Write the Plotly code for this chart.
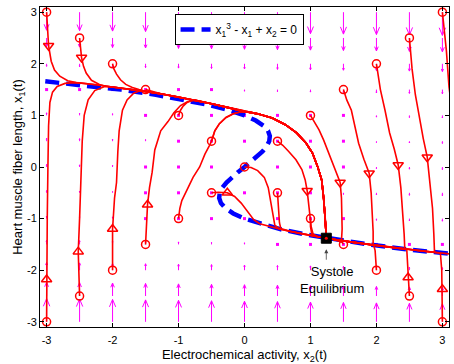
import plotly.graph_objects as go

# ---------------- data ----------------
tick_vals = [-3, -2, -1, 0, 1, 2, 3]
tick_text = ["-3", "-2", "-1", "0", "1", "2", "3"]

# quiver grid (x2 across, x1 down) and vertical arrow components
x2_grid = [-3.0, -2.5, -2.0, -1.5, -1.0, -0.5, 0.0, 0.5, 1.0, 1.5, 2.0, 2.5, 3.0]
x1_grid = [3.0, 2.5, 2.0, 1.5, 1.0, 0.5, 0.0, -0.5, -1.0, -1.5, -2.0, -2.5, -3.0]
quiver_v = [
    [-21, -21.5, -22, -22.5, -23, -23.5, -24, -24.5, -25, -25.5, -26, -26.5, -27],
    [-10.1, -10.6, -11.1, -11.6, -12.1, -12.6, -13.1, -13.6, -14.1, -14.6, -15.1, -15.6, -16.1],
    [-3, -3.5, -4, -4.5, -5, -5.5, -6, -6.5, -7, -7.5, -8, -8.5, -9],
    [1.1, 0.6, 0.1, -0.4, -0.9, -1.4, -1.9, -2.4, -2.9, -3.4, -3.9, -4.4, -4.9],
    [3, 2.5, 2, 1.5, 1, 0.5, 0, -0.5, -1, -1.5, -2, -2.5, -3],
    [3.4, 2.9, 2.4, 1.9, 1.4, 0.9, 0.4, -0.1, -0.6, -1.1, -1.6, -2.1, -2.6],
    [3, 2.5, 2, 1.5, 1, 0.5, 0, -0.5, -1, -1.5, -2, -2.5, -3],
    [2.6, 2.1, 1.6, 1.1, 0.6, 0.1, -0.4, -0.9, -1.4, -1.9, -2.4, -2.9, -3.4],
    [3, 2.5, 2, 1.5, 1, 0.5, 0, -0.5, -1, -1.5, -2, -2.5, -3],
    [4.9, 4.4, 3.9, 3.4, 2.9, 2.4, 1.9, 1.4, 0.9, 0.4, -0.1, -0.6, -1.1],
    [9, 8.5, 8, 7.5, 7, 6.5, 6, 5.5, 5, 4.5, 4, 3.5, 3],
    [16.1, 15.6, 15.1, 14.6, 14.1, 13.6, 13.1, 12.6, 12.1, 11.6, 11.1, 10.6, 10.1],
    [27, 26.5, 26, 25.5, 25, 24.5, 24, 23.5, 23, 22.5, 22, 21.5, 21],
]

# nullcline x1^3 - x1 + x2 = 0
null_x1 = [-1.8, -1.7, -1.6, -1.5, -1.4, -1.3, -1.2, -1.1, -1.0, -0.9, -0.8, -0.7, -0.6,
           -0.5, -0.4, -0.3, -0.2, -0.1, 0.0, 0.1, 0.2, 0.3, 0.4, 0.5, 0.6, 0.7, 0.8,
           0.9, 1.0, 1.1, 1.2, 1.3, 1.4, 1.5, 1.6, 1.7, 1.8]
null_x2 = [4.032, 3.213, 2.496, 1.875, 1.344, 0.897, 0.528, 0.231, 0.0, -0.171, -0.288,
           -0.357, -0.384, -0.375, -0.336, -0.273, -0.192, -0.099, 0.0, 0.099, 0.192,
           0.273, 0.336, 0.375, 0.384, 0.357, 0.288, 0.171, 0.0, -0.231, -0.528,
           -0.897, -1.344, -1.875, -2.496, -3.213, -4.032]

# shared path along the upper branch down to the equilibrium
up_x2 = [-3.2, -3.0, -2.75, -2.5, -2.25, -2.0, -1.75, -1.5, -1.25, -1.0, -0.75, -0.5,
         -0.25, 0.0, 0.2, 0.42, 0.62, 0.79, 0.93, 1.03, 1.11, 1.17, 1.2, 1.22, 1.23, 1.24]
up_x1 = [1.73, 1.70, 1.665, 1.63, 1.595, 1.55, 1.51, 1.465, 1.415, 1.355, 1.295, 1.225,
         1.15, 1.075, 1.03, 0.95, 0.82, 0.66, 0.47, 0.27, 0.0, -0.25, -0.6, -0.9, -1.15, -1.38]
# lower branch, left of the equilibrium (moving right)
ll_x2 = [0.1, 0.23, 0.37, 0.53, 0.7, 0.9, 1.11, 1.24]
ll_x1 = [-1.06, -1.1, -1.15, -1.2, -1.25, -1.3, -1.35, -1.38]
# lower branch, right of the equilibrium (moving left)
lr_x2 = [3.4, 3.21, 2.84, 2.5, 2.17, 1.88, 1.6, 1.34, 1.24]
lr_x1 = [-1.72, -1.7, -1.65, -1.6, -1.55, -1.5, -1.45, -1.4, -1.38]

# individual trajectories (lead-in part), joined to a shared path
t01_x2 = [-3, -2.99, -2.97, -2.93, -2.88, -2.8, -2.68, -2.55]
t01_x1 = [3, 2.7, 2.35, 2.05, 1.88, 1.76, 1.67, 1.635]
t02_x2 = [-2.5, -2.49, -2.47, -2.44, -2.4, -2.32, -2.2, -2.1]
t02_x1 = [2.5, 2.3, 2.12, 1.95, 1.82, 1.68, 1.6, 1.565]
t03_x2 = [-2, -1.98, -1.94, -1.88, -1.8, -1.7, -1.6]
t03_x1 = [2, 1.9, 1.8, 1.69, 1.6, 1.54, 1.5]
t04_x2 = [-1.5, -1.4, -1.3]
t04_x1 = [1.5, 1.46, 1.43]
t05_x2 = [-1, -0.97, -0.93, -0.87, -0.78]
t05_x1 = [1, 1.1, 1.18, 1.25, 1.3]
t06_x2 = [-0.5, -0.45, -0.38, -0.28, -0.17, -0.05, 0.1]
t06_x1 = [0.5, 0.7, 0.84, 0.96, 1.03, 1.07, 1.06]
t07_x2 = [-3, -3, -2.99, -2.98, -2.97, -2.95, -2.91, -2.84, -2.72, -2.6]
t07_x1 = [-3, -2.18, -1.0, 0.0, 0.8, 1.25, 1.45, 1.56, 1.62, 1.635]
t08_x2 = [-2.5, -2.51, -2.52, -2.5, -2.48, -2.46, -2.43, -2.37, -2.27, -2.12]
t08_x1 = [-2.5, -2.1, -1.64, -1.0, -0.3, 0.5, 1.0, 1.3, 1.48, 1.56]
t09_x2 = [-2, -2, -2, -1.97, -1.94, -1.92, -1.9, -1.85, -1.78, -1.68, -1.58]
t09_x1 = [-2, -1.6, -1.2, -0.6, -0.3, 0.3, 0.7, 1.1, 1.3, 1.43, 1.48]
t10_x2 = [-1.5, -1.49, -1.47, -1.44, -1.4, -1.36, -1.27, -1.16, -1.07, -0.97, -0.86]
t10_x1 = [-1.5, -1.1, -0.73, -0.4, -0.1, 0.33, 0.7, 0.88, 1.05, 1.19, 1.27]
t11_x2 = [-1, -0.98, -0.95, -0.86, -0.78, -0.68, -0.6, -0.53, -0.5, -0.45, -0.38, -0.28,
          -0.17, -0.05, 0.1]
t11_x1 = [-1, -0.8, -0.65, -0.4, -0.2, 0.0, 0.25, 0.42, 0.5, 0.7, 0.84, 0.96, 1.03, 1.07, 1.06]
t12_x2 = [-0.5, -0.4, -0.26, -0.15, -0.05, 0.05, 0.14]
t12_x1 = [-0.5, -0.49, -0.5, -0.57, -0.7, -0.88, -1.02]
t13_x2 = [0, 0.1, 0.2, 0.3, 0.36, 0.4, 0.43, 0.46]
t13_x1 = [0, -0.01, -0.07, -0.2, -0.4, -0.7, -0.95, -1.13]
t14_x2 = [0.5, 0.51, 0.52, 0.53, 0.55]
t14_x1 = [-0.5, -0.7, -0.9, -1.08, -1.19]
t15_x2 = [1, 1.0, 1.02]
t15_x1 = [-1, -1.15, -1.3]
t16_x2 = [0.5, 0.58, 0.67, 0.78, 0.87, 0.92, 0.95, 0.97, 0.99, 1.01, 1.04]
t16_x1 = [0.5, 0.42, 0.3, 0.14, -0.05, -0.25, -0.46, -0.7, -0.95, -1.15, -1.3]
t17_x2 = [1, 1.06, 1.13, 1.2, 1.3, 1.39, 1.45, 1.47, 1.48, 1.48, 1.47]
t17_x1 = [1, 0.88, 0.72, 0.52, 0.2, -0.12, -0.3, -0.6, -0.9, -1.2, -1.43]
t18_x2 = [1.5, 1.55, 1.62, 1.68, 1.73, 1.81, 1.89, 1.92, 1.94, 1.95, 1.95]
t18_x1 = [1.5, 1.3, 1.1, 0.75, 0.46, 0.15, -0.12, -0.5, -0.9, -1.25, -1.51]
t19_x2 = [2, 2.03, 2.06, 2.13, 2.2, 2.27, 2.33, 2.37, 2.4, 2.42, 2.43]
t19_x1 = [2, 1.75, 1.5, 1.1, 0.66, 0.35, 0.04, -0.4, -0.9, -1.3, -1.59]
t20_x2 = [2.5, 2.52, 2.54, 2.59, 2.65, 2.71, 2.77, 2.81, 2.85, 2.87, 2.88]
t20_x1 = [2.5, 2.2, 1.9, 1.4, 0.96, 0.55, 0.19, -0.3, -0.8, -1.3, -1.65]
t21_x2 = [3, 3.03, 3.06, 3.1, 3.16, 3.23, 3.3, 3.36, 3.4]
t21_x1 = [3, 2.6, 2.26, 1.55, 1.0, 0.3, -0.4, -1.1, -1.72]
t22_x2 = [1.5, 1.48]
t22_x1 = [-1.5, -1.46]
t23_x2 = [2, 1.99, 1.98, 1.96]
t23_x1 = [-2, -1.8, -1.62, -1.52]
t24_x2 = [2.5, 2.48, 2.47, 2.46]
t24_x1 = [-2.5, -2.14, -1.85, -1.6]
t25_x2 = [3, 3, 2.99, 2.97]
t25_x1 = [-3, -2.37, -2.0, -1.67]

# which shared path each trajectory continues on
joins = ["up", "up", "up", "up", "up", "up", "up", "up", "up", "up", "up",
         "ll", "ll", "ll", "ll", "ll", "lr", "lr", "lr", "lr", "lr", "lr", "lr", "lr", "lr"]

# direction markers
tri_down_x2 = [-2.97, -2.47, 0.95, 1.45, 1.89, 2.33, 2.77]
tri_down_x1 = [2.35, 2.12, -0.46, -0.3, -0.12, 0.04, 0.19]
tri_up_x2 = [-3, -2.52, -2, -1.47, -0.26, 2.48, 3]
tri_up_x1 = [-2.18, -1.64, -1.2, -0.73, -0.5, -2.14, -2.37]

# equilibrium
eq_x2 = 1.24
eq_x1 = -1.38

legend_label = "x<sub>1</sub><sup>3</sup> - x<sub>1</sub> + x<sub>2</sub> = 0"
x_title = "Electrochemical activity, x<sub>2</sub>(t)"
y_title = "Heart muscle fiber length, x<sub>1</sub>(t)"
eq_label = "Systole<br>Equilibrium"

# ---------------- build figure ----------------
RED = "#ff0000"
MAG = "#ff00ff"
QSCALE = 0.45 / 27.0

fig = go.Figure()

# quiver field
qx, qy, dx, dy = [], [], [], []
for i, x1 in enumerate(x1_grid):
    for j, x2 in enumerate(x2_grid):
        v = quiver_v[i][j]
        if abs(v) <= 1.5:
            dx.append(x2)
            dy.append(x1)
            continue
        L = v * QSCALE
        tip = x1 + L
        hl = 0.33 * L
        hw = 0.33 * 0.33 * abs(L)
        qx += [x2, x2, None, x2 - hw, x2, x2 + hw, None]
        qy += [x1, tip, None, tip - hl, tip, tip - hl, None]

fig.add_trace(go.Scatter(x=qx, y=qy, mode="lines", line=dict(color=MAG, width=1),
                         showlegend=False, hoverinfo="skip"))
fig.add_trace(go.Scatter(x=dx, y=dy, mode="markers",
                         marker=dict(color=MAG, size=3, symbol="square", line=dict(width=0)),
                         showlegend=False, hoverinfo="skip"))

# nullcline
fig.add_trace(go.Scatter(x=null_x2, y=null_x1, mode="lines", name=legend_label,
                         line=dict(color="#0000ff", width=4.5, dash="14px,7px")))

paths = {"up": (up_x2, up_x1), "ll": (ll_x2, ll_x1), "lr": (lr_x2, lr_x1)}
trajs = [(t01_x2, t01_x1), (t02_x2, t02_x1), (t03_x2, t03_x1), (t04_x2, t04_x1),
         (t05_x2, t05_x1), (t06_x2, t06_x1), (t07_x2, t07_x1), (t08_x2, t08_x1),
         (t09_x2, t09_x1), (t10_x2, t10_x1), (t11_x2, t11_x1), (t12_x2, t12_x1),
         (t13_x2, t13_x1), (t14_x2, t14_x1), (t15_x2, t15_x1), (t16_x2, t16_x1),
         (t17_x2, t17_x1), (t18_x2, t18_x1), (t19_x2, t19_x1), (t20_x2, t20_x1),
         (t21_x2, t21_x1), (t22_x2, t22_x1), (t23_x2, t23_x1), (t24_x2, t24_x1),
         (t25_x2, t25_x1)]

start_x2, start_x1 = [], []
for (tx, ty), jn in zip(trajs, joins):
    px, py = paths[jn]
    xs, ys = list(tx), list(ty)
    last = xs[-1]
    for a, b in zip(px, py):
        if (jn == "lr" and a < last) or (jn != "lr" and a > last):
            xs.append(a)
            ys.append(b)
    fig.add_trace(go.Scatter(x=xs, y=ys, mode="lines", line=dict(color=RED, width=1.6),
                             showlegend=False, hoverinfo="skip"))
    start_x2.append(tx[0])
    start_x1.append(ty[0])

fig.add_trace(go.Scatter(x=start_x2, y=start_x1, mode="markers",
                         marker=dict(symbol="circle-open", size=8, color=RED, line=dict(width=1.5)),
                         showlegend=False, hoverinfo="skip"))
fig.add_trace(go.Scatter(x=tri_down_x2, y=tri_down_x1, mode="markers",
                         marker=dict(symbol="triangle-down-open", size=9, color=RED, line=dict(width=1.5)),
                         showlegend=False, hoverinfo="skip"))
fig.add_trace(go.Scatter(x=tri_up_x2, y=tri_up_x1, mode="markers",
                         marker=dict(symbol="triangle-up-open", size=9, color=RED, line=dict(width=1.5)),
                         showlegend=False, hoverinfo="skip"))
fig.add_trace(go.Scatter(x=[eq_x2], y=[eq_x1], mode="markers",
                         marker=dict(symbol="square", size=10, color="black", line=dict(width=1, color="black")),
                         showlegend=False, hoverinfo="skip"))
fig.add_trace(go.Scatter(x=[eq_x2], y=[eq_x1], mode="markers",
                         marker=dict(symbol="circle", size=3, color=RED),
                         showlegend=False, hoverinfo="skip"))

fig.add_annotation(x=eq_x2, y=eq_x1, xref="x", yref="y", text="", showarrow=True,
                   ax=0, ay=12, yshift=-11, arrowhead=2, arrowsize=1, arrowwidth=0.8,
                   arrowcolor="#444444")
fig.add_annotation(x=eq_x2, y=eq_x1, xref="x", yref="y", text=eq_label, showarrow=False,
                   xanchor="center", yanchor="top", yshift=-24, xshift=6,
                   font=dict(size=13, color="black"))

axis_common = dict(range=[-3.1, 3.1], tickvals=tick_vals, ticktext=tick_text,
                   ticks="inside", ticklen=4, tickcolor="black", mirror="ticks",
                   showline=True, linecolor="black", linewidth=1, showgrid=False,
                   zeroline=False, tickfont=dict(size=11, color="black"))

fig.update_layout(
    width=454, height=364,
    margin=dict(l=40, r=4, t=7, b=35),
    paper_bgcolor="white", plot_bgcolor="white",
    font=dict(family="Liberation Sans, Arial, sans-serif", color="black"),
    xaxis=dict(**axis_common, ticklabelstandoff=3,
               title=dict(text=x_title, font=dict(size=13), standoff=5)),
    yaxis=dict(**axis_common, title=dict(text=y_title, font=dict(size=13), standoff=0)),
    legend=dict(x=0.329, y=0.978, xanchor="left", yanchor="top", bgcolor="white",
                bordercolor="black", borderwidth=1, font=dict(size=12)),
)

fig.write_html("out.html")
